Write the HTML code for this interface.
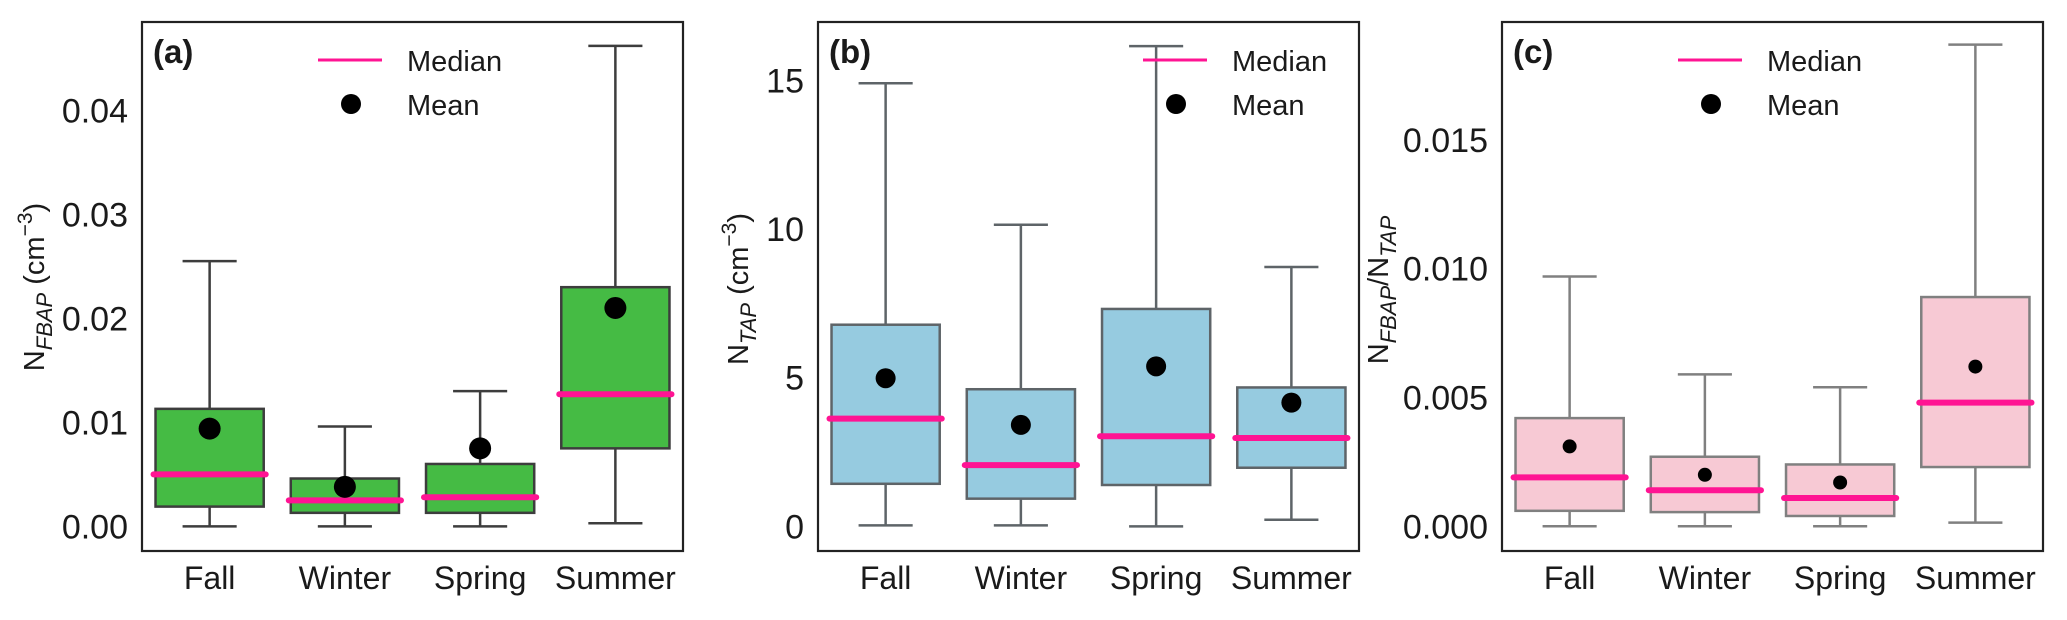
<!DOCTYPE html>
<html><head><meta charset="utf-8"><style>
html,body{margin:0;padding:0;background:#fff;}
svg text{font-family:"Liberation Sans",Arial,sans-serif;fill:#1a1a1a;}
</style></head><body>
<svg id="chart" xmlns="http://www.w3.org/2000/svg" width="2067" height="615" viewBox="0 0 2067 615"></svg>
<script>
const categories = ["Fall","Winter","Spring","Summer"];
// Panel (a) N_FBAP
const aWhiskerLow = [0, 0, 0, 0.0003];
const aQ1 = [0.0019, 0.0013, 0.0013, 0.0075];
const aMedian = [0.0050, 0.0025, 0.0028, 0.0127];
const aQ3 = [0.0113, 0.0046, 0.0060, 0.0230];
const aWhiskerHigh = [0.0255, 0.0096, 0.0130, 0.0462];
const aMean = [0.0094, 0.0038, 0.0075, 0.0210];
const aTicks = [0, 0.01, 0.02, 0.03, 0.04];
const aTickLabels = ["0.00","0.01","0.02","0.03","0.04"];
// Panel (b) N_TAP
const bWhiskerLow = [0.03, 0.03, 0.0, 0.22];
const bQ1 = [1.43, 0.93, 1.39, 1.97];
const bMedian = [3.62, 2.06, 3.03, 2.97];
const bQ3 = [6.78, 4.61, 7.31, 4.67];
const bWhiskerHigh = [14.9, 10.14, 16.15, 8.72];
const bMean = [4.98, 3.41, 5.38, 4.16];
const bTicks = [0, 5, 10, 15];
const bTickLabels = ["0","5","10","15"];
// Panel (c) ratio
const cWhiskerLow = [0, 0, 0, 0.00014];
const cQ1 = [0.0006, 0.00055, 0.0004, 0.0023];
const cMedian = [0.0019, 0.0014, 0.0011, 0.0048];
const cQ3 = [0.0042, 0.0027, 0.0024, 0.0089];
const cWhiskerHigh = [0.0097, 0.0059, 0.0054, 0.0187];
const cMean = [0.0031, 0.0020, 0.0017, 0.0062];
const cTicks = [0, 0.005, 0.010, 0.015];
const cTickLabels = ["0.000","0.005","0.010","0.015"];

const NS = "http://www.w3.org/2000/svg";
const svg = document.getElementById("chart");
function mk(tag, attrs, parent){
  const e = document.createElementNS(NS, tag);
  for (const k in attrs) e.setAttribute(k, attrs[k]);
  (parent||svg).appendChild(e);
  return e;
}
const TOP = 22, BOTTOM = 551, PW = 541;

function drawPanel(p){
  const g = mk("g", {});
  
  
  const L = p.left;
  const y = v => BOTTOM - (v - p.ymin) / (p.ymax - p.ymin) * (BOTTOM - TOP);
  const step = PW / 4;
  const x = i => L + (i + 0.5) * step;
  const bw = step * 0.8, cw = step * 0.4;
  p.ticks.forEach((t, i) => {
    const tx = mk("text", {x: L - 14, y: y(t) + 12, "text-anchor": "end", "font-size": 34}, g);
    tx.textContent = p.tickLabels[i];
    
    
  });
  categories.forEach((c, i) => {
    const cx = x(i);
    const grp = mk("g", {}, g);
    
    
    mk("line", {x1: cx, x2: cx, y1: y(p.lo[i]), y2: y(p.q1[i]), stroke: p.wc, "stroke-width": 2.5}, grp);
    mk("line", {x1: cx, x2: cx, y1: y(p.q3[i]), y2: y(p.hi[i]), stroke: p.wc, "stroke-width": 2.5}, grp);
    mk("line", {x1: cx - cw/2, x2: cx + cw/2, y1: y(p.lo[i]), y2: y(p.lo[i]), stroke: p.wc, "stroke-width": 2.5}, grp);
    mk("line", {x1: cx - cw/2, x2: cx + cw/2, y1: y(p.hi[i]), y2: y(p.hi[i]), stroke: p.wc, "stroke-width": 2.5}, grp);
    mk("rect", {x: cx - bw/2, y: y(p.q3[i]), width: bw, height: y(p.q1[i]) - y(p.q3[i]), fill: p.fill, stroke: p.wc, "stroke-width": 2.5}, grp);
    const med = mk("line", {x1: cx - bw/2 - 2, x2: cx + bw/2 + 2, y1: y(p.med[i]), y2: y(p.med[i]), stroke: "#ff1493", "stroke-width": 6, "stroke-linecap": "round"}, grp);
    
    
    const dot = mk("circle", {cx: cx, cy: y(p.mean[i]), r: p.r, fill: "#000"}, grp);
    
    
    const lb = mk("text", {x: cx, y: 589, "text-anchor": "middle", "font-size": 32}, g);
    lb.textContent = c;
    
    
  });
  const fr = mk("rect", {x: L, y: TOP, width: PW, height: BOTTOM - TOP, fill: "none", stroke: "#222", "stroke-width": 2.2}, g);
  
  
  const pl = mk("text", {x: L + 11, y: 63, "font-size": 33, "font-weight": "bold"}, g);
  pl.textContent = p.label;
  
  
  const lg = mk("g", {}, g);
  
  
  const lx = L + p.legX;
  mk("line", {x1: lx, x2: lx + 64, y1: 60, y2: 60, stroke: "#ff1493", "stroke-width": 3}, lg);
  const t1 = mk("text", {x: lx + 89, y: 71, "font-size": 29}, lg);
  t1.textContent = "Median";
  mk("circle", {cx: lx + 33, cy: 104, r: 10, fill: "#000"}, lg);
  const t2 = mk("text", {x: lx + 89, y: 115, "font-size": 29}, lg);
  t2.textContent = "Mean";
  const yl = mk("text", {x: 0, y: 0, "text-anchor": "middle", "font-size": 29, transform: `translate(${p.ylx},${p.yly}) rotate(-90)`}, g);
  yl.innerHTML = p.ylabel;
  
  
}

drawPanel({name: "panel-a-nfbap", left: 142, ymin: -0.00237, ymax: 0.0485, ticks: aTicks, tickLabels: aTickLabels,
  lo: aWhiskerLow, q1: aQ1, med: aMedian, q3: aQ3, hi: aWhiskerHigh, mean: aMean,
  fill: "#45bb44", wc: "#3d3d3d", r: 11, label: "(a)", legX: 176, ylx: 44, yly: 287,
  ylabel: 'N<tspan font-style="italic" font-size="22" dy="8">FBAP</tspan><tspan dy="-8"> (cm</tspan><tspan font-size="21" dy="-12">−3</tspan><tspan dy="12">)</tspan>'});
drawPanel({name: "panel-b-ntap", left: 818, ymin: -0.83, ymax: 16.96, ticks: bTicks, tickLabels: bTickLabels,
  lo: bWhiskerLow, q1: bQ1, med: bMedian, q3: bQ3, hi: bWhiskerHigh, mean: bMean,
  fill: "#96cbe0", wc: "#5e6468", r: 10, label: "(b)", legX: 325, ylx: 748, yly: 289,
  ylabel: 'N<tspan font-style="italic" font-size="22" dy="8">TAP</tspan><tspan dy="-8"> (cm</tspan><tspan font-size="21" dy="-12">−3</tspan><tspan dy="12">)</tspan>'});
drawPanel({name: "panel-c-ratio", left: 1502, ymin: -0.00096, ymax: 0.01958, ticks: cTicks, tickLabels: cTickLabels,
  lo: cWhiskerLow, q1: cQ1, med: cMedian, q3: cQ3, hi: cWhiskerHigh, mean: cMean,
  fill: "#f7c9d4", wc: "#808080", r: 7, label: "(c)", legX: 176, ylx: 1388, yly: 290,
  ylabel: 'N<tspan font-style="italic" font-size="22" dy="8">FBAP</tspan><tspan dy="-8">/N</tspan><tspan font-style="italic" font-size="22" dy="8">TAP</tspan>'});
</script>
</body></html>
